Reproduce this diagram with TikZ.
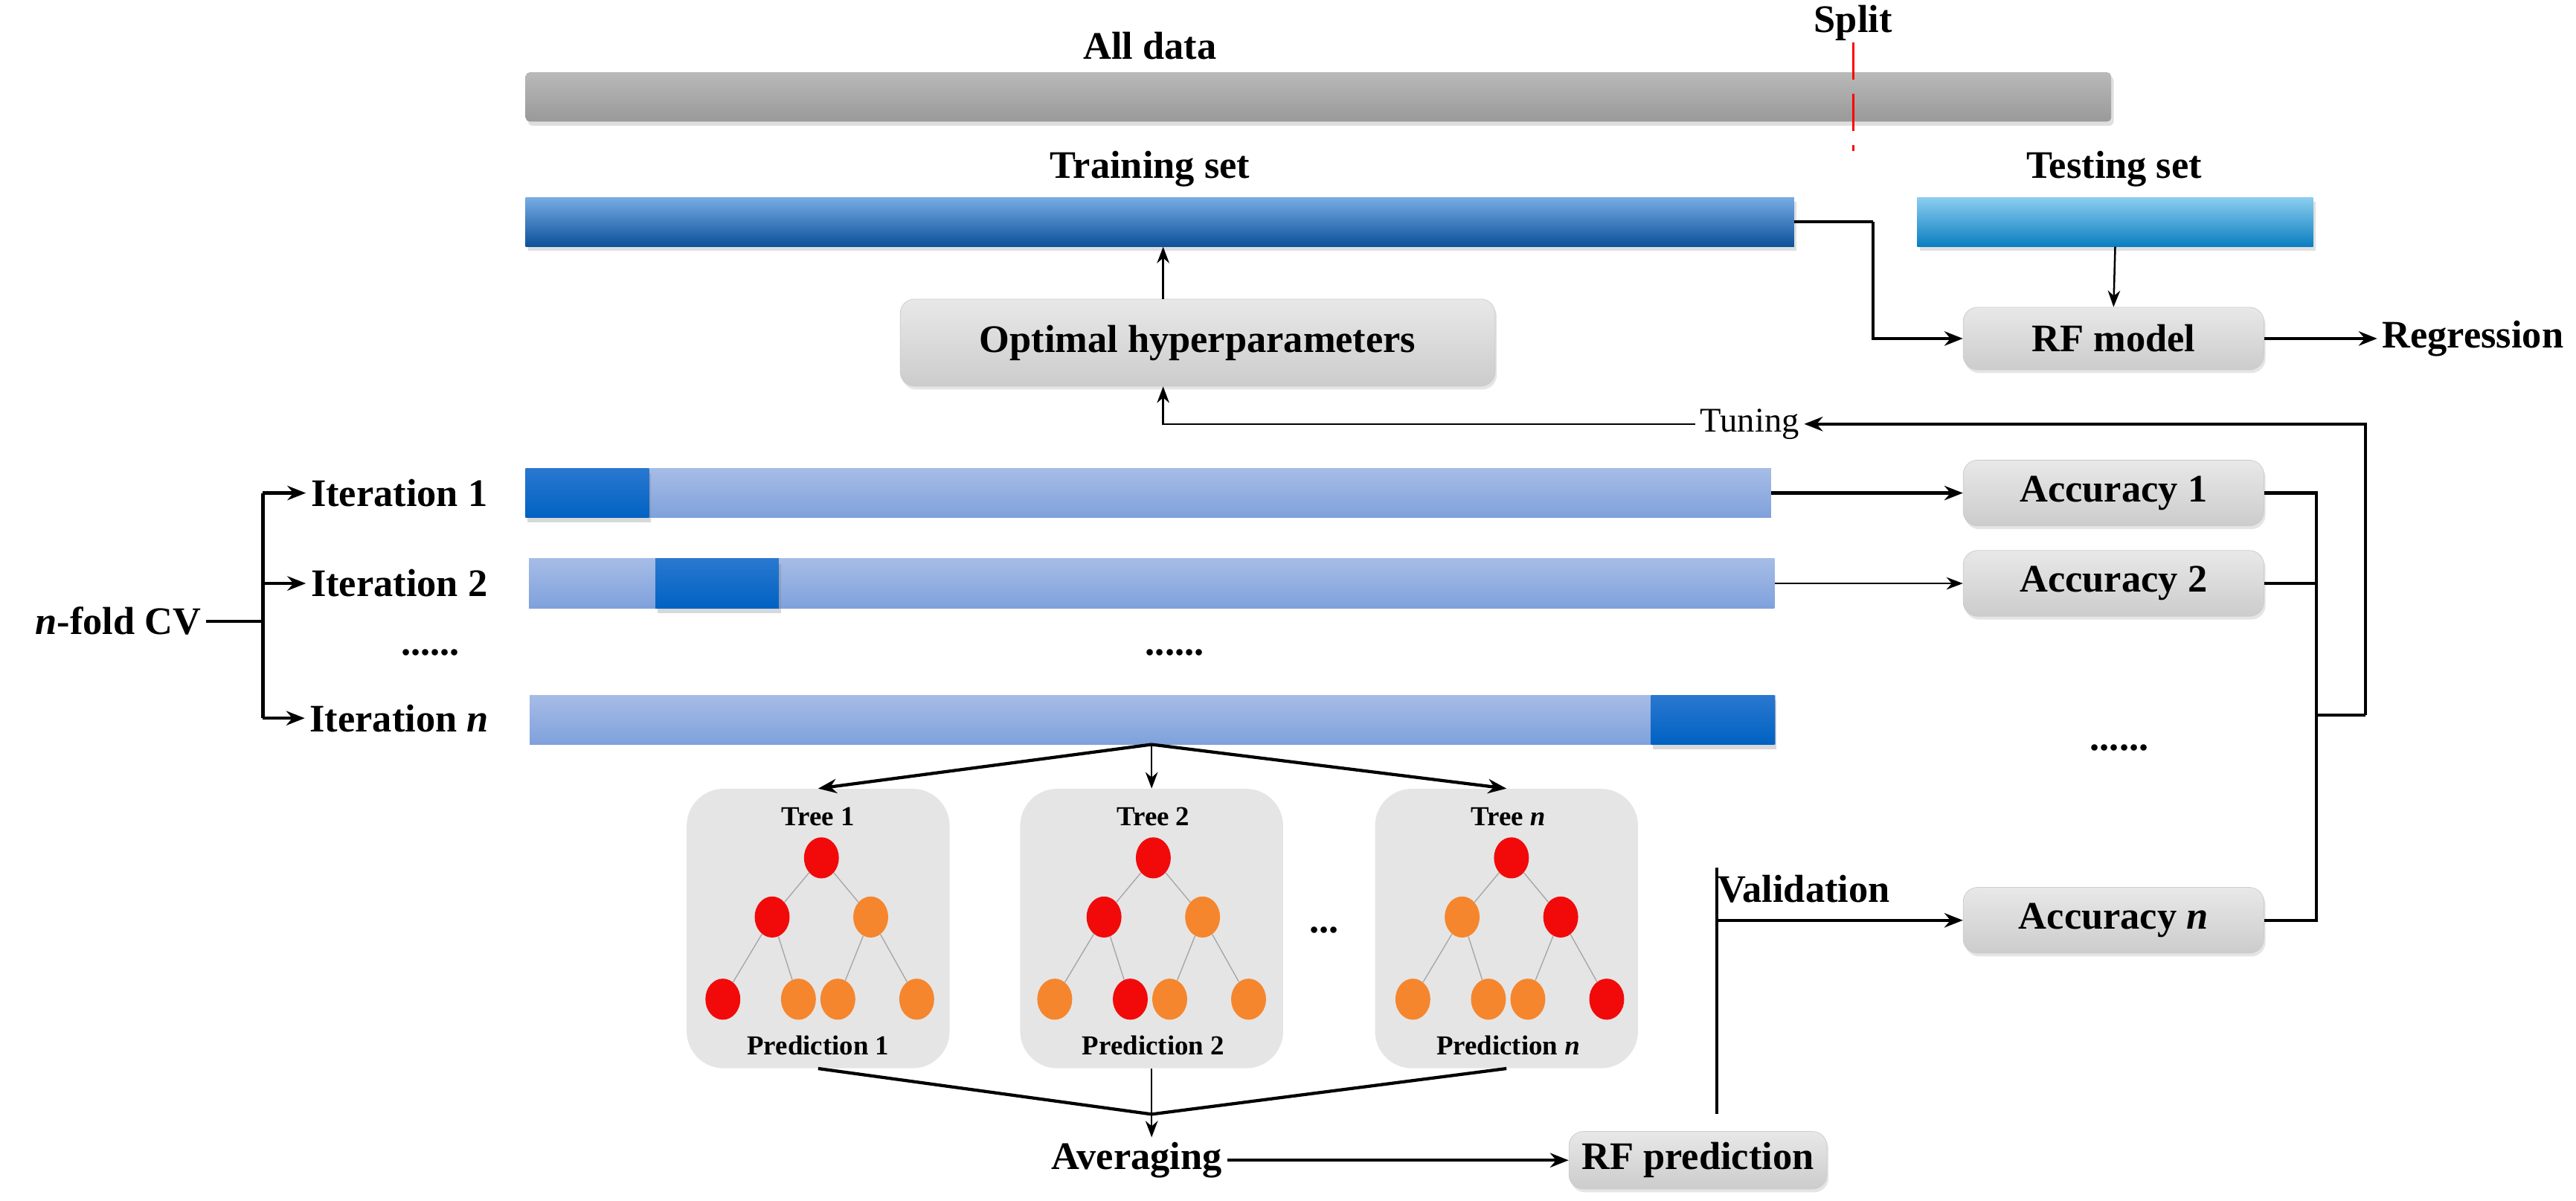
\documentclass[tikz,border=0pt]{standalone}
\usepackage{fontspec}
\setmainfont{Liberation Serif}
\usetikzlibrary{arrows.meta,shadows,shapes.geometric}
\definecolor{rd}{HTML}{F20A0A}
\definecolor{og}{HTML}{F5862E}
\definecolor{trT}{HTML}{78ACE4}
\definecolor{trM}{HTML}{2A7BD0}
\definecolor{trB}{HTML}{0C519A}
\definecolor{teT}{HTML}{8CCEF0}
\definecolor{teB}{HTML}{0A7EC0}
\definecolor{itT}{HTML}{A6BCE6}
\definecolor{itB}{HTML}{7FA1DC}
\definecolor{dkT}{HTML}{2A78D0}
\definecolor{dkB}{HTML}{0062C2}
\tikzset{
 big/.style={font=\fontsize{27}{29}\selectfont\bfseries},
 sml/.style={font=\fontsize{19}{21}\selectfont\bfseries},
 bar/.style={draw=none,minimum height=1.2cm,inner sep=0pt,drop shadow={shadow xshift=0.06cm,shadow yshift=-0.1cm,opacity=0.25}},
 graybar/.style={bar,rounded corners=0.1cm,top color=gray!55,bottom color=gray!80},
 trainbar/.style={bar,top color=trT,middle color=trM,bottom color=trB},
 testbar/.style={bar,top color=teT,bottom color=teB},
 itbar/.style={draw=none,minimum height=1.2cm,inner sep=0pt,top color=itT,bottom color=itB},
 dk/.style={draw=none,minimum width=3cm,minimum height=1.2cm,inner sep=0pt,top color=dkT,bottom color=dkB,drop shadow={shadow xshift=0.05cm,shadow yshift=-0.12cm,opacity=0.3}},
 gbox/.style={draw=gray!40,rounded corners=0.35cm,top color=gray!18,bottom color=gray!40,big,inner sep=0pt,drop shadow={shadow xshift=0.04cm,shadow yshift=-0.08cm,opacity=0.2}},
 tbox/.style={draw=none,fill=gray!20,rounded corners=0.9cm,minimum width=6.4cm,minimum height=6.8cm},
 dot/.style={ellipse,minimum width=0.85cm,minimum height=1.0cm,inner sep=0pt},
 edge/.style={gray!70,line width=0.7pt},
 con/.style={line width=2.2pt},
 arr/.style={line width=2.2pt,-{Stealth[length=0.45cm,width=0.35cm]}},
 tarr/.style={line width=1.3pt,-{Stealth[length=0.4cm,width=0.3cm]}},
}
\newcommand\mytree[9]{%
 \node[dot,fill=#3] (#2r) at (#1+2,522) {};
 \node[dot,fill=#4] (#2a) at (#1-28,558) {};
 \node[dot,fill=#5] (#2b) at (#1+32,558) {};
 \node[dot,fill=#6] (#2c) at (#1-58,608) {};
 \node[dot,fill=#7] (#2d) at (#1-12,608) {};
 \node[dot,fill=#8] (#2e) at (#1+12,608) {};
 \node[dot,fill=#9] (#2f) at (#1+60,608) {};
 \draw[edge] (#2r)--(#2a) (#2r)--(#2b) (#2a)--(#2c) (#2a)--(#2d) (#2b)--(#2e) (#2b)--(#2f);
}
\begin{document}
\begin{tikzpicture}[x=0.04cm,y=-0.04cm]
\useasboundingbox[fill=white] (0,0) rectangle (1568,730.4);
% top bars
\node[graybar,minimum width=38.6cm] (all) at (802.5,59) {};
\node[big] (allt) at (700,28) {All data};
\node[big] (split) at (1128,14) {Split};
\coordinate (s1) at (1128,26); \coordinate (s2) at (1128,92);
\draw[red,line width=1.6pt,dash pattern=on 0.9cm off 0.35cm] (s1)--(s2);
\node[trainbar,minimum width=30.88cm] (train) at (706,135) {};
\node[big] (traint) at (700,103) {Training set};
\node[testbar,minimum width=9.64cm] (test) at (1287.5,135) {};
\node[big] (testt) at (1287,103) {Testing set};
% boxes
\node[gbox,minimum width=14.48cm,minimum height=2.12cm] (opt) at (729,208.5) {Optimal hyperparameters};
\node[gbox,minimum width=7.32cm,minimum height=1.52cm] (rfm) at (1286.5,206) {RF model};
\node[big,anchor=west] (reg) at (1447,206) {Regression};
\node[gbox,minimum width=7.32cm,minimum height=1.6cm] (acc1) at (1286.5,300) {Accuracy 1};
\node[gbox,minimum width=7.32cm,minimum height=1.6cm] (acc2) at (1286.5,355) {Accuracy 2};
\node[gbox,minimum width=7.32cm,minimum height=1.6cm] (accn) at (1286.5,560) {Accuracy \textit{n}};
\node[big] (accd) at (1290,455) {......};
\node[gbox,minimum width=6.28cm,minimum height=1.4cm] (rfp) at (1033.5,706) {RF prediction};
% iteration bars
\node[itbar,minimum width=30.32cm] (it1) at (699,300) {};
\node[itbar,minimum width=30.32cm] (it2) at (701,355) {};
\node[itbar,minimum width=30.32cm] (itn) at (701.5,438) {};
\node[dk] (d1) at (357.5,300) {};
\node[dk] (d2) at (436.5,355) {};
\node[dk] (dn) at (1042.5,438) {};
\node[big] (l1) at (243,300) {Iteration 1};
\node[big] (l2) at (243,355) {Iteration 2};
\node[big] (ld) at (262,397) {......};
\node[big] (ln) at (243,437) {Iteration \textit{n}};
\node[big] (md) at (715,397) {......};
\node[big] (cv) at (72,378) {\textit{n}-fold CV};
\node[font=\fontsize{24}{26}\selectfont] (tun) at (1065,258) {Tuning};
% trees
\node[tbox] (t1) at (498,565) {};
\node[tbox] (t2) at (701,565) {};
\node[tbox] (tn) at (917,565) {};
\node[sml] (t1l) at (498,497) {Tree 1};
\node[sml] (t2l) at (702,497) {Tree 2};
\node[sml] (tnl) at (918,497) {Tree \textit{n}};
\node[sml] (p1) at (498,636) {Prediction 1};
\node[sml] (p2) at (702,636) {Prediction 2};
\node[sml] (pn) at (918,636) {Prediction \textit{n}};
\node[big] (tdots) at (806,566) {...};
\mytree{498}{a}{rd}{rd}{og}{rd}{og}{og}{og}
\mytree{700}{b}{rd}{rd}{og}{og}{rd}{og}{og}
\mytree{918}{c}{rd}{og}{rd}{og}{og}{og}{rd}
\node[big] (avg) at (692,706) {Averaging};
\node[big] (val) at (1098,541) {Validation};
% connectors
\coordinate (ax) at (708,0);
\coordinate (tb) at (1140,0);
\coordinate (bx) at (1410,0);
\coordinate (jn) at (1440,435);
\coordinate (cb) at (160,0);
\coordinate (bt) at (701,453);
\coordinate (mg) at (701,678);
\coordinate (vt) at (1045,528);
\coordinate (vb) at (1045,678);
\draw[tarr] (opt.north -| ax) -- (train.south -| ax);
\draw[con] (train.east) -- (train.east -| tb);
\draw[arr] (train.east -| tb) |- (rfm.west);
\draw[tarr] (test.south) -- (rfm.north);
\draw[arr] (rfm.east) -- (reg.west);
\draw[arr] (jn) |- (tun.east);
\draw[tarr] (tun.west) -| (opt.south -| ax);
\draw[con] (acc1.east) -- (acc1.east -| bx) -- (accn.east -| bx) -- (accn.east);
\draw[con] (acc2.east) -- (acc2.east -| bx);
\draw[con] (bx |- jn) -- (jn);
\draw[arr] (it1.east) -- (acc1.west);
\draw[tarr] (it2.east) -- (acc2.west);
\draw[con] (cv.east) -- (cv.east -| cb);
\draw[con] (cb |- l1) -- (cb |- ln);
\draw[arr] (cb |- l1) -- (l1.west);
\draw[arr] (cb |- l2) -- (l2.west);
\draw[arr] (cb |- ln) -- (ln.west);
\draw[arr] (bt) -- (t1.north);
\draw[tarr] (bt) -- (t2.north);
\draw[arr] (bt) -- (tn.north);
\draw[con] (t1.south) -- (mg);
\draw[con] (tn.south) -- (mg);
\draw[tarr] (t2.south) -- (avg.north -| t2.south);
\draw[arr] (avg.east) -- (rfp.west);
\draw[con] (vt) -- (vb);
\draw[arr] (vt |- accn.west) -- (accn.west);
\end{tikzpicture}
\end{document}
